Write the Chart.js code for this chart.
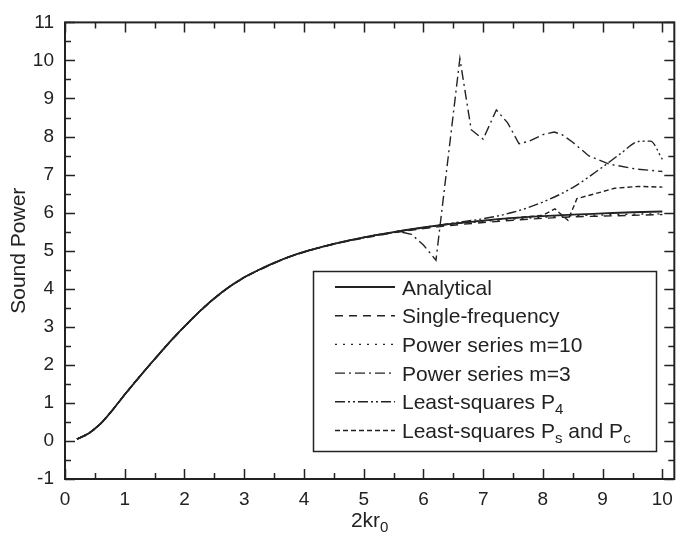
<!DOCTYPE html>
<html>
<head>
<meta charset="utf-8">
<script src="https://cdn.jsdelivr.net/npm/chart.js@4.4.1/dist/chart.umd.min.js"></script>
<style>
  html, body { margin: 0; padding: 0; background: #fff; }
  canvas { display: block; }
</style>
</head>
<body>
<canvas id="chart" width="682" height="538"></canvas>
<script>
// values
const xTicks = [0, 1, 2, 3, 4, 5, 6, 7, 8, 9, 10];
const yTicks = [-1, 0, 1, 2, 3, 4, 5, 6, 7, 8, 9, 10, 11];

const xAnalytical = [0.2, 0.4, 0.6, 0.8, 1, 1.2, 1.4, 1.6, 1.8, 2, 2.25, 2.5, 2.75, 3, 3.25, 3.5, 3.75, 4, 4.5, 5, 5.5, 6, 6.5, 7, 7.5, 8, 8.5, 9, 9.5, 10];
const yAnalytical = [0.05, 0.2, 0.46, 0.82, 1.22, 1.6, 1.97, 2.33, 2.68, 3.01, 3.4, 3.75, 4.05, 4.3, 4.5, 4.68, 4.84, 4.97, 5.18, 5.35, 5.49, 5.61, 5.71, 5.79, 5.86, 5.91, 5.95, 5.98, 6.01, 6.03];

const xSingle = [0.2, 0.4, 0.6, 0.8, 1, 1.2, 1.4, 1.6, 1.8, 2, 2.25, 2.5, 2.75, 3, 3.25, 3.5, 3.75, 4, 4.5, 5, 5.5, 6, 6.5, 7, 7.5, 8, 8.5, 9, 9.5, 10];
const ySingle = [0.05, 0.2, 0.46, 0.82, 1.21, 1.59, 1.96, 2.32, 2.67, 3.0, 3.39, 3.74, 4.04, 4.29, 4.49, 4.67, 4.83, 4.96, 5.17, 5.33, 5.47, 5.58, 5.67, 5.74, 5.8, 5.85, 5.89, 5.91, 5.93, 5.95];

const xPower10 = [0.2, 0.4, 0.6, 0.8, 1, 1.2, 1.4, 1.6, 1.8, 2, 2.25, 2.5, 2.75, 3, 3.25, 3.5, 3.75, 4, 4.5, 5, 5.5, 6, 6.5, 7, 7.5, 8, 8.5, 9, 9.5, 10];
const yPower10 = [0.05, 0.2, 0.46, 0.82, 1.22, 1.6, 1.97, 2.33, 2.68, 3.01, 3.4, 3.75, 4.05, 4.3, 4.5, 4.68, 4.84, 4.97, 5.18, 5.34, 5.48, 5.6, 5.7, 5.77, 5.83, 5.88, 5.92, 5.94, 5.96, 5.97];

const xPower3 = [0.2, 0.4, 0.6, 0.8, 1, 1.2, 1.4, 1.6, 1.8, 2, 2.25, 2.5, 2.75, 3, 3.25, 3.5, 3.75, 4, 4.5, 5, 5.4, 5.6, 5.8, 6.0, 6.21, 6.61, 6.8, 7.0, 7.22, 7.41, 7.6, 7.77, 8.0, 8.19, 8.32, 8.5, 8.77, 9.1, 9.54, 10];
const yPower3 = [0.05, 0.2, 0.46, 0.82, 1.22, 1.6, 1.97, 2.33, 2.68, 3.01, 3.4, 3.75, 4.05, 4.3, 4.5, 4.68, 4.84, 4.97, 5.18, 5.35, 5.46, 5.5, 5.43, 5.15, 4.75, 10.05, 8.18, 7.93, 8.7, 8.36, 7.81, 7.88, 8.05, 8.12, 8.05, 7.85, 7.49, 7.28, 7.15, 7.08];

const xP4 = [0.2, 0.4, 0.6, 0.8, 1, 1.2, 1.4, 1.6, 1.8, 2, 2.25, 2.5, 2.75, 3, 3.25, 3.5, 3.75, 4, 4.5, 5, 5.5, 6, 6.5, 7, 7.5, 8, 8.5, 9, 9.3, 9.6, 9.8, 10];
const yP4 = [0.05, 0.2, 0.46, 0.82, 1.22, 1.6, 1.97, 2.33, 2.68, 3.01, 3.4, 3.75, 4.05, 4.3, 4.5, 4.68, 4.84, 4.97, 5.18, 5.35, 5.49, 5.61, 5.73, 5.84, 6.01, 6.28, 6.66, 7.2, 7.55, 7.87, 7.88, 7.4];

const xPsPc = [0.2, 0.4, 0.6, 0.8, 1, 1.2, 1.4, 1.6, 1.8, 2, 2.25, 2.5, 2.75, 3, 3.25, 3.5, 3.75, 4, 4.5, 5, 5.5, 6, 6.5, 7, 7.5, 8, 8.2, 8.42, 8.57, 8.88, 9.2, 9.6, 10];
const yPsPc = [0.05, 0.2, 0.46, 0.82, 1.22, 1.6, 1.97, 2.33, 2.68, 3.01, 3.4, 3.75, 4.05, 4.3, 4.5, 4.68, 4.84, 4.97, 5.18, 5.35, 5.49, 5.61, 5.71, 5.79, 5.86, 5.93, 6.1, 5.8, 6.37, 6.5, 6.64, 6.69, 6.67];

const FONT = "'Liberation Sans', Arial, Helvetica, sans-serif";
const INK = "#222";

function pts(xs, ys) {
  return xs.map((x, i) => ({ x: x, y: ys[i] }));
}

const series = [
  { label: "Analytical", sub: null, xs: xAnalytical, ys: yAnalytical, dash: [], width: 1.8, smooth: true },
  { label: "Single-frequency", sub: null, xs: xSingle, ys: ySingle, dash: [8, 6], width: 1.4, smooth: true },
  { label: "Power series m=10", sub: null, xs: xPower10, ys: yPower10, dash: [2, 6], width: 1.4, smooth: true },
  { label: "Power series m=3", sub: null, xs: xPower3, ys: yPower3, dash: [10, 4, 2, 4], width: 1.4, smooth: false },
  { label: "Least-squares P", sub: [["4", ""]], xs: xP4, ys: yP4, dash: [10, 3, 2, 3, 2, 3], width: 1.4, smooth: true },
  { label: "Least-squares P", sub: [["s", " and P"], ["c", ""]], xs: xPsPc, ys: yPsPc, dash: [5, 3], width: 1.4, smooth: false }
];

// frame, inward ticks on four sides, axis titles and boxed legend
const decor = {
  id: "decor",
  afterDraw(chart) {
    const ctx = chart.ctx;
    const a = chart.chartArea;
    const xs = chart.scales.x, ys = chart.scales.y;
    ctx.save();
    ctx.strokeStyle = INK;
    ctx.fillStyle = INK;
    ctx.setLineDash([]);
    ctx.lineWidth = 2;
    ctx.strokeRect(a.left, a.top, a.right - a.left, a.bottom - a.top);

    ctx.lineWidth = 1.5;
    ctx.beginPath();
    for (let v = 0; v <= 10.001; v += 0.5) {
      const px = Math.round(xs.getPixelForValue(v)) + 0.5;
      const len = Number.isInteger(v) ? 10 : 6;
      ctx.moveTo(px, a.bottom); ctx.lineTo(px, a.bottom - len);
      ctx.moveTo(px, a.top); ctx.lineTo(px, a.top + len);
    }
    for (let v = -1; v <= 11.001; v += 0.5) {
      const py = Math.round(ys.getPixelForValue(v)) + 0.5;
      const len = Number.isInteger(v) ? 10 : 6;
      ctx.moveTo(a.left, py); ctx.lineTo(a.left + len, py);
      ctx.moveTo(a.right, py); ctx.lineTo(a.right - len, py);
    }
    ctx.stroke();

    // axis titles
    const cx = (a.left + a.right) / 2;
    ctx.font = "21px " + FONT;
    const w1 = ctx.measureText("2kr").width;
    ctx.font = "15px " + FONT;
    const w2 = ctx.measureText("0").width;
    const sx = cx - (w1 + w2) / 2;
    ctx.textAlign = "left";
    ctx.textBaseline = "alphabetic";
    ctx.font = "21px " + FONT;
    ctx.fillText("2kr", sx, 527);
    ctx.font = "15px " + FONT;
    ctx.fillText("0", sx + w1, 532);

    ctx.save();
    ctx.translate(25, (a.top + a.bottom) / 2);
    ctx.rotate(-Math.PI / 2);
    ctx.font = "21px " + FONT;
    ctx.textAlign = "center";
    ctx.fillText("Sound Power", 0, 0);
    ctx.restore();

    // legend
    ctx.lineWidth = 1.5;
    ctx.strokeRect(313.5, 271.5, 343, 180);
    series.forEach((s, i) => {
      const y = 287 + i * 28.7;
      ctx.setLineDash(s.dash);
      ctx.lineWidth = s.width;
      ctx.beginPath();
      ctx.moveTo(335, y);
      ctx.lineTo(395, y);
      ctx.stroke();
      ctx.setLineDash([]);
      ctx.textAlign = "left";
      ctx.font = "21px " + FONT;
      let tx = 402;
      const base = y + 7.5;
      ctx.fillText(s.label, tx, base);
      tx += ctx.measureText(s.label).width;
      if (s.sub) {
        s.sub.forEach(([sb, rest]) => {
          ctx.font = "15px " + FONT;
          ctx.fillText(sb, tx, base + 5);
          tx += ctx.measureText(sb).width;
          if (rest) {
            ctx.font = "21px " + FONT;
            ctx.fillText(rest, tx, base);
            tx += ctx.measureText(rest).width;
          }
        });
      }
    });
    ctx.restore();
  }
};

const datasets = series.map(s => ({
  label: s.sub ? s.label + s.sub.map(p => p.join("")).join("") : s.label,
  data: pts(s.xs, s.ys),
  borderColor: INK,
  borderWidth: s.width,
  borderDash: s.dash,
  pointRadius: 0,
  fill: false,
  tension: 0,
  cubicInterpolationMode: s.smooth ? "monotone" : "default"
}));

new Chart(document.getElementById("chart").getContext("2d"), {
  type: "line",
  data: { datasets: datasets },
  options: {
    responsive: false,
    animation: false,
    layout: { padding: { top: 16.5, right: 3, left: 0, bottom: 0 } },
    plugins: {
      legend: { display: false },
      tooltip: { enabled: false }
    },
    scales: {
      x: {
        type: "linear",
        min: 0,
        max: 10.2,
        afterBuildTicks: s => { s.ticks = xTicks.map(v => ({ value: v })); },
        afterFit: s => { s.height = 59; },
        grid: { display: false, drawTicks: false },
        border: { display: false },
        ticks: { color: INK, font: { family: FONT, size: 19 }, padding: 9, maxRotation: 0, autoSkip: false }
      },
      y: {
        type: "linear",
        min: -1,
        max: 11,
        afterBuildTicks: s => { s.ticks = yTicks.map(v => ({ value: v })); },
        afterFit: s => { s.width = 65; },
        grid: { display: false, drawTicks: false },
        border: { display: false },
        ticks: { color: INK, font: { family: FONT, size: 19 }, padding: 11, autoSkip: false }
      }
    }
  },
  plugins: [decor]
});
</script>
</body>
</html>
